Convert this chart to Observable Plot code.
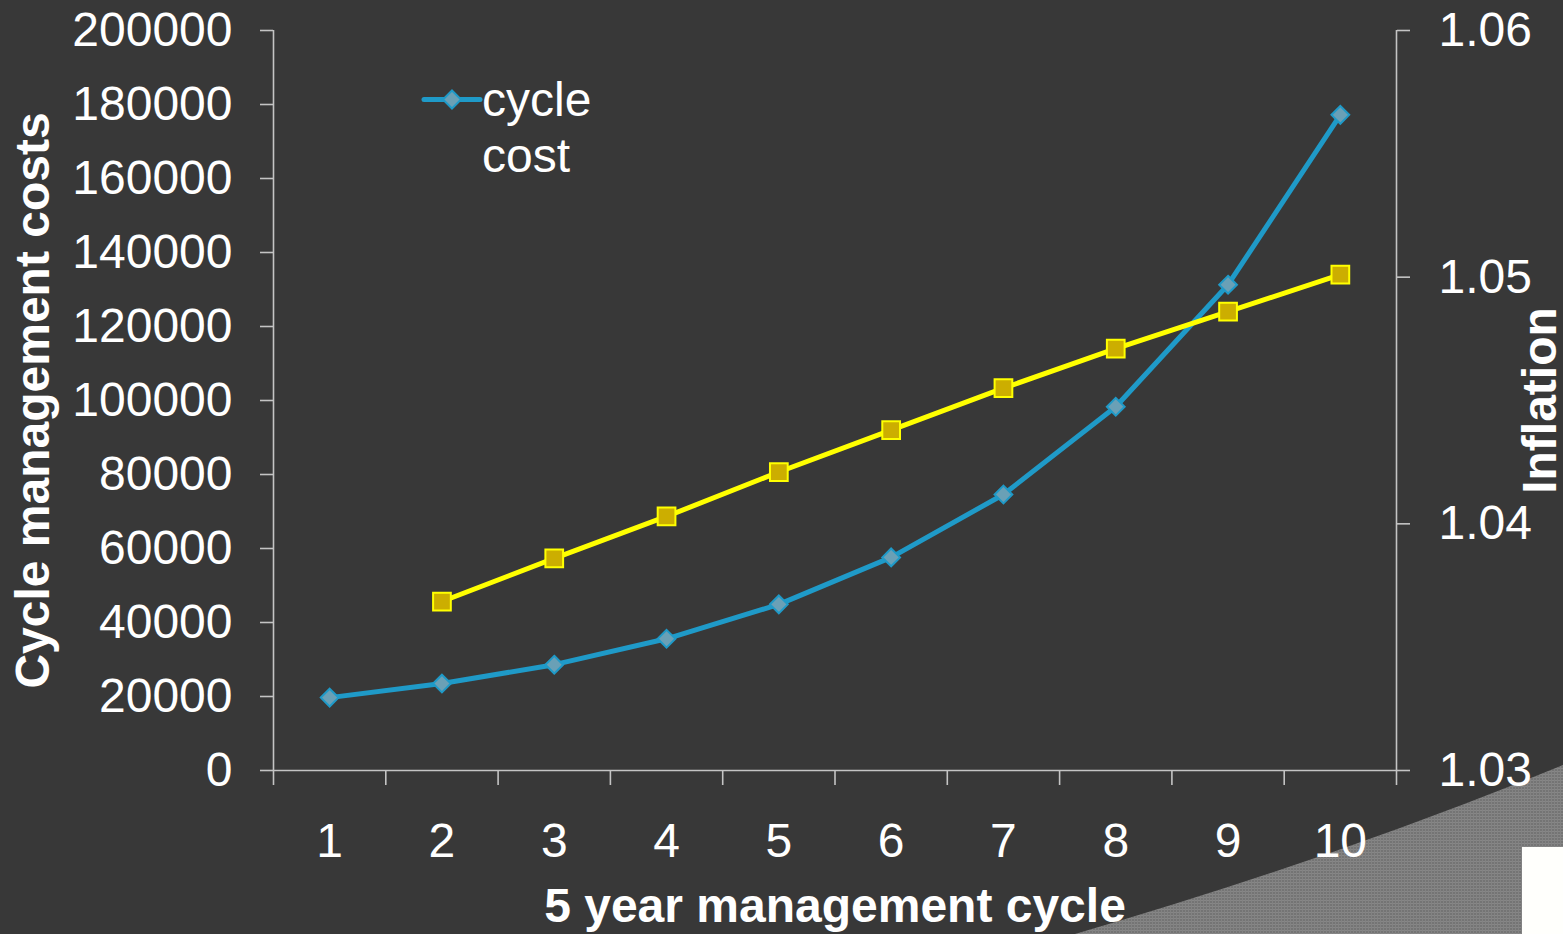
<!DOCTYPE html>
<html>
<head>
<meta charset="utf-8">
<script src="https://cdn.jsdelivr.net/npm/d3@7"></script>
<script src="https://cdn.jsdelivr.net/npm/@observablehq/plot@0.6"></script>
<style>
  html, body { margin: 0; padding: 0; background: #383838; overflow: hidden; }
  #wrap { position: relative; width: 1563px; height: 934px; background: #383838; font-family: "Liberation Sans", Arial, sans-serif; }
  #wrap > * { position: absolute; left: 0; top: 0; }
</style>
</head>
<body>
<div id="wrap">
  <svg id="deco" width="1563" height="934">
    <defs>
      <pattern id="dots" width="3" height="3" patternUnits="userSpaceOnUse">
        <rect width="3" height="3" fill="#747474"/>
        <rect width="3" height="1" fill="#878787"/>
        <rect width="1" height="3" fill="#828282"/>
      </pattern>
    </defs>
    <path d="M1075,934 Q1330,860 1563,765 L1563,934 Z" fill="url(#dots)"/>
    <rect x="1522" y="847" width="41" height="87" fill="#fffffc"/>
  </svg>
</div>
<script>
// ---- data ----
const cycles = [1, 2, 3, 4, 5, 6, 7, 8, 9, 10];
const cycleCost = [19700, 23500, 28600, 35600, 44900, 57600, 74600, 98300, 131300, 177200];
const inflationCycles = [2, 3, 4, 5, 6, 7, 8, 9, 10];
const inflation = [1.03685, 1.0386, 1.0403, 1.0421, 1.0438, 1.0455, 1.0471, 1.0486, 1.0501];
const costTicks = [0, 20000, 40000, 60000, 80000, 100000, 120000, 140000, 160000, 180000, 200000];
const inflationTicks = [1.03, 1.04, 1.05, 1.06];
const boundaryTicks = [0.5, 1.5, 2.5, 3.5, 4.5, 5.5, 6.5, 7.5, 8.5, 9.5, 10.5];
const xTitle = "5 year management cycle";
const yTitle = "Cycle management costs";
const y2Title = "Inflation";
const legendLabel = ["cycle", "cost"];

const costData = cycles.map((c, i) => ({cycle: c, cost: cycleCost[i]}));
const inflData = inflationCycles.map((c, i) => ({cycle: c, value: inflation[i]}));

const W = 1563, H = 934;
const margins = {marginLeft: 273, marginRight: 167, marginTop: 30, marginBottom: 164};
const font = '"Liberation Sans", Arial, sans-serif';
const axisGray = "#c4c4c4";
const blue = "#1f9ac8";
const yellow = "#ffff00";
const FS = 48;

const common = {
  width: W, height: H, ...margins,
  style: {background: "transparent", color: "white", fontFamily: font, overflow: "visible"}
};

const p1 = Plot.plot({
  ...common,
  x: {type: "linear", domain: [0.5, 10.5]},
  y: {domain: [0, 200000]},
  marks: [
    Plot.ruleX([0.5], {stroke: axisGray, strokeWidth: 1.6}),
    Plot.ruleY([0], {stroke: axisGray, strokeWidth: 1.6}),
    Plot.axisY({anchor: "left", ticks: costTicks, tickFormat: d3.format("d"), tickSize: 13, tickPadding: 28,
      fontSize: FS, color: "white", stroke: axisGray, strokeWidth: 1.6, label: null}),
    Plot.axisX({anchor: "bottom", ticks: boundaryTicks, tickFormat: () => "", tickSize: 15,
      stroke: axisGray, strokeWidth: 1.6, label: null}),
    Plot.axisX({anchor: "bottom", ticks: cycles, tickFormat: d3.format("d"), tickSize: 0, tickPadding: 52,
      fontSize: FS, color: "white", label: null}),
    Plot.text([xTitle], {frameAnchor: "bottom", lineAnchor: "middle", textAnchor: "middle", dy: 136,
      fontSize: FS, fontWeight: "bold", fill: "white"}),
    Plot.text([yTitle], {frameAnchor: "left", lineAnchor: "middle", textAnchor: "middle", dx: -240, rotate: -90,
      fontSize: FS, fontWeight: "bold", fill: "white"}),
    Plot.line(costData, {x: "cycle", y: "cost", stroke: blue, strokeWidth: 5}),
    Plot.dot(costData, {x: "cycle", y: "cost", symbol: "diamond2", r: 8, fill: "#6aa0b6", stroke: blue, strokeWidth: 2})
  ]
});

const p2 = Plot.plot({
  ...common,
  x: {type: "linear", domain: [0.5, 10.5], axis: null},
  y: {domain: [1.03, 1.06]},
  marks: [
    Plot.ruleX([10.5], {stroke: axisGray, strokeWidth: 1.6}),
    Plot.axisY({anchor: "right", ticks: inflationTicks, tickFormat: d3.format(".2f"), tickSize: 13, tickPadding: 29,
      fontSize: FS, color: "white", stroke: axisGray, strokeWidth: 1.6, label: null}),
    Plot.text([y2Title], {frameAnchor: "right", lineAnchor: "middle", textAnchor: "middle", dx: 144, rotate: -90,
      fontSize: FS, fontWeight: "bold", fill: "white"}),
    Plot.line(inflData, {x: "cycle", y: "value", stroke: yellow, strokeWidth: 5}),
    Plot.dot(inflData, {x: "cycle", y: "value", symbol: "square", r: 10, fill: "#ccae00", stroke: yellow, strokeWidth: 2})
  ]
});

const wrap = document.getElementById("wrap");
wrap.appendChild(p1);
wrap.appendChild(p2);

// legend
const ns = "http://www.w3.org/2000/svg";
const leg = document.createElementNS(ns, "svg");
leg.setAttribute("width", W);
leg.setAttribute("height", H);
leg.style.pointerEvents = "none";
const ln = document.createElementNS(ns, "line");
ln.setAttribute("x1", 424); ln.setAttribute("x2", 480); ln.setAttribute("y1", 99.5); ln.setAttribute("y2", 99.5);
ln.setAttribute("stroke", blue); ln.setAttribute("stroke-width", 5); ln.setAttribute("stroke-linecap", "round");
leg.appendChild(ln);
const dm = document.createElementNS(ns, "path");
dm.setAttribute("d", "M452,90.5 L461,99.5 L452,108.5 L443,99.5 Z");
dm.setAttribute("fill", "#6aa0b6"); dm.setAttribute("stroke", blue); dm.setAttribute("stroke-width", 2);
leg.appendChild(dm);
const tx = document.createElementNS(ns, "text");
tx.setAttribute("font-family", font); tx.setAttribute("font-size", FS); tx.setAttribute("fill", "white");
legendLabel.forEach((s, i) => {
  const ts = document.createElementNS(ns, "tspan");
  ts.setAttribute("x", 482); ts.setAttribute("y", 116 + i * 56);
  ts.textContent = s;
  tx.appendChild(ts);
});
leg.appendChild(tx);
wrap.appendChild(leg);
</script>
</body>
</html>
